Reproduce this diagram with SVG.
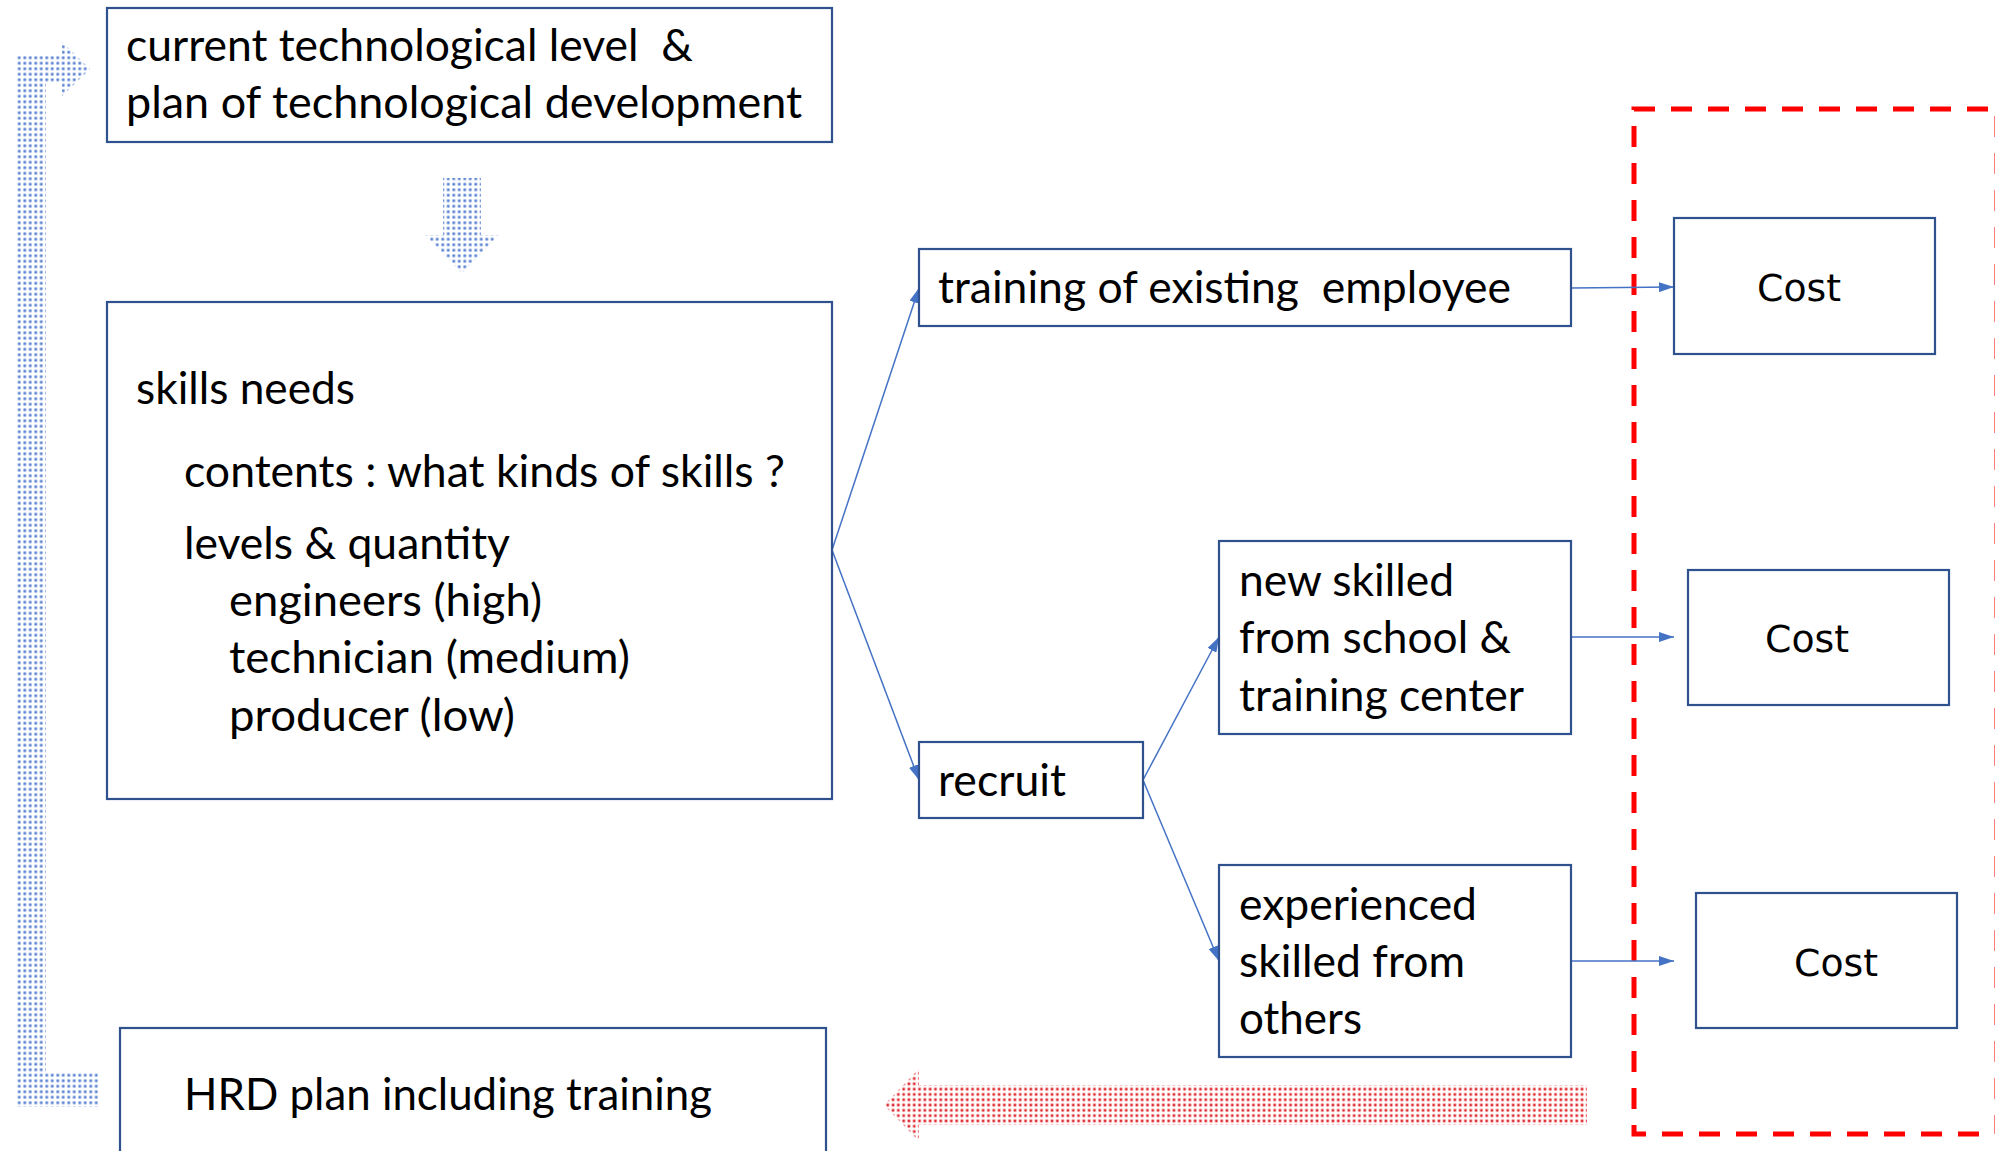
<svg xmlns="http://www.w3.org/2000/svg" width="1995" height="1151" viewBox="0 0 1995 1151">
  <defs>
    <style>
      .box { fill: #ffffff; stroke: #2F528F; stroke-width: 2.2; }
      .lbl { font-family: Lato, "Liberation Sans", sans-serif; font-size: 44px; fill: #000000; white-space: pre; }
      .cost { font-family: "DejaVu Sans", Verdana, sans-serif; font-size: 38px; fill: #000000; }
      .link { fill: none; stroke: #4472C4; stroke-width: 1.5; }
      .frame { fill: none; stroke: #FF0000; stroke-width: 5; stroke-dasharray: 21 16; }
    </style>
    <!-- dotted fills for the block arrows -->
    <pattern id="dotsBlue" width="5.5" height="5.5" patternUnits="userSpaceOnUse">
      <circle cx="2.75" cy="2.75" r="1.9" fill="#a9bfe8"/>
      <circle cx="2.75" cy="2.75" r="1.1" fill="#5b83d0"/>
    </pattern>
    <pattern id="dotsRed" width="5.3" height="5.3" patternUnits="userSpaceOnUse">
      <circle cx="2.65" cy="2.65" r="1.9" fill="#f4a3a6"/>
      <circle cx="2.65" cy="2.65" r="1.1" fill="#dd2a30"/>
    </pattern>
    <marker id="tip" viewBox="0 0 15 10" refX="15" refY="5" markerWidth="15" markerHeight="10" markerUnits="userSpaceOnUse" orient="auto">
      <path d="M0,0 L15,5 L0,10 Z" fill="#4472C4"/>
    </marker>
  </defs>

  <!-- cost area frame -->
  <rect id="cost-frame" class="frame" x="1634" y="109" width="363" height="1025"/>

  <!-- block arrows -->
  <g id="feedback-arrow">
    <path d="M90,69 L62,42 L62,55 L16,55 L16,1107 L99,1107 L99,1073 L46,1073 L46,83 L62,83 L62,96 Z" fill="url(#dotsBlue)"/>
  </g>
  <g id="down-arrow">
    <path d="M443,178 L481,178 L481,235 L499,235 L462,273 L425,235 L443,235 Z" fill="url(#dotsBlue)"/>
  </g>
  <g id="cost-return-arrow">
    <path d="M884,1105 L919,1069 L919,1085 L1587,1085 L1587,1125 L919,1125 L919,1141 Z" fill="url(#dotsRed)"/>
  </g>

  <!-- connectors -->
  <g id="connectors">
    <line class="link" x1="832" y1="550" x2="919" y2="288" marker-end="url(#tip)"/>
    <line class="link" x1="832" y1="550" x2="919" y2="780" marker-end="url(#tip)"/>
    <line class="link" x1="1143" y1="780" x2="1219" y2="637" marker-end="url(#tip)"/>
    <line class="link" x1="1143" y1="780" x2="1219" y2="961" marker-end="url(#tip)"/>
    <line class="link" x1="1571" y1="288" x2="1674" y2="287" marker-end="url(#tip)"/>
    <line class="link" x1="1571" y1="637" x2="1674" y2="637" marker-end="url(#tip)"/>
    <line class="link" x1="1571" y1="961" x2="1674" y2="961" marker-end="url(#tip)"/>
  </g>

  <!-- nodes -->
  <g id="tech-level">
    <rect class="box" x="107" y="8" width="725" height="134"/>
    <text class="lbl" x="126" y="61" textLength="567" lengthAdjust="spacingAndGlyphs">current technological level  &amp;</text>
    <text class="lbl" x="126" y="118" textLength="676" lengthAdjust="spacingAndGlyphs">plan of technological development</text>
  </g>

  <g id="skills-needs">
    <rect class="box" x="107" y="302" width="725" height="497"/>
    <text class="lbl" x="136" y="404" textLength="219" lengthAdjust="spacingAndGlyphs">skills needs</text>
    <text class="lbl" x="184" y="487" textLength="601" lengthAdjust="spacingAndGlyphs">contents : what kinds of skills ?</text>
    <text class="lbl" x="184" y="559" textLength="326" lengthAdjust="spacingAndGlyphs">levels &amp; quantity</text>
    <text class="lbl" x="229" y="616" textLength="313" lengthAdjust="spacingAndGlyphs">engineers (high)</text>
    <text class="lbl" x="229" y="673" textLength="401" lengthAdjust="spacingAndGlyphs">technician (medium)</text>
    <text class="lbl" x="229" y="731" textLength="286" lengthAdjust="spacingAndGlyphs">producer (low)</text>
  </g>

  <g id="hrd-plan">
    <rect class="box" x="120" y="1028" width="706" height="140"/>
    <text class="lbl" x="184" y="1110" textLength="528" lengthAdjust="spacingAndGlyphs">HRD plan including training</text>
  </g>

  <g id="training-existing">
    <rect class="box" x="919" y="249" width="652" height="77"/>
    <text class="lbl" x="938" y="303" textLength="573" lengthAdjust="spacingAndGlyphs">training of existing  employee</text>
  </g>

  <g id="recruit">
    <rect class="box" x="919" y="742" width="224" height="76"/>
    <text class="lbl" x="938" y="796" textLength="128" lengthAdjust="spacingAndGlyphs">recruit</text>
  </g>

  <g id="new-skilled">
    <rect class="box" x="1219" y="541" width="352" height="193"/>
    <text class="lbl" x="1239" y="596" textLength="215" lengthAdjust="spacingAndGlyphs">new skilled</text>
    <text class="lbl" x="1239" y="653" textLength="272" lengthAdjust="spacingAndGlyphs">from school &amp;</text>
    <text class="lbl" x="1239" y="711" textLength="285" lengthAdjust="spacingAndGlyphs">training center</text>
  </g>

  <g id="experienced">
    <rect class="box" x="1219" y="865" width="352" height="192"/>
    <text class="lbl" x="1239" y="920" textLength="238" lengthAdjust="spacingAndGlyphs">experienced</text>
    <text class="lbl" x="1239" y="977" textLength="226" lengthAdjust="spacingAndGlyphs">skilled from</text>
    <text class="lbl" x="1239" y="1034" textLength="123" lengthAdjust="spacingAndGlyphs">others</text>
  </g>

  <g id="cost-training">
    <rect class="box" x="1674" y="218" width="261" height="136"/>
    <text class="cost" x="1757" y="301" textLength="84" lengthAdjust="spacingAndGlyphs">Cost</text>
  </g>

  <g id="cost-new">
    <rect class="box" x="1688" y="570" width="261" height="135"/>
    <text class="cost" x="1765" y="652" textLength="84" lengthAdjust="spacingAndGlyphs">Cost</text>
  </g>

  <g id="cost-experienced">
    <rect class="box" x="1696" y="893" width="261" height="135"/>
    <text class="cost" x="1794" y="976" textLength="84" lengthAdjust="spacingAndGlyphs">Cost</text>
  </g>
</svg>
